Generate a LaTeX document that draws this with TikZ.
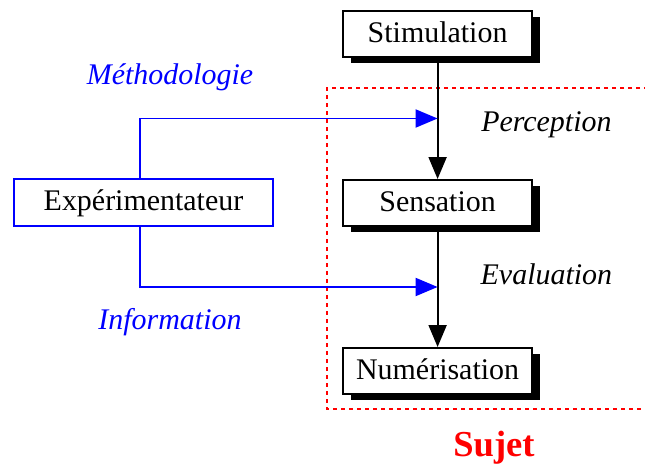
\documentclass[tikz,border=0pt]{standalone}
\usepackage{fontspec}
\setmainfont{Liberation Serif}
\usetikzlibrary{arrows.meta,positioning,calc,shadows}

\begin{document}
\begin{tikzpicture}[
  box/.style={draw=black,line width=1.4pt,fill=white,minimum width=4.725cm,minimum height=1.15cm,inner sep=0pt,font=\fontsize{21.3}{25}\selectfont,
    text height=0.5cm,text depth=0.08cm,
    drop shadow={shadow xshift=0.2cm,shadow yshift=-0.15cm,fill=black,opacity=1}},
  bluebox/.style={draw=blue,line width=1.4pt,fill=white,minimum width=6.475cm,minimum height=1.175cm,inner sep=0pt,font=\fontsize{21.3}{25}\selectfont,
    text height=0.5cm,text depth=0.08cm},
  lbl/.style={anchor=base,font=\fontsize{21.3}{25}\selectfont\itshape},
  arr/.style={-{Triangle[length=0.55cm,width=0.45cm]},line width=1.4pt,black},
  barr/.style={-{Triangle[length=0.55cm,width=0.45cm]},line width=1.4pt,blue}
]
\useasboundingbox (0,0) rectangle (16.125,11.6);

% Sujet frame
\draw[red,line width=1.4pt,dash pattern=on 0.1cm off 0.1cm] (16.4,9.4) -| (8.175,1.375) -- (16.4,1.375);

% Chain
\node[box] (stim) at (10.94,10.75) {Stimulation};
\node[box] (sens) at (10.94,6.525) {Sensation};
\node[box] (num) at (10.94,2.325) {Numérisation};
\node[bluebox] (expe) at (3.5875,6.5375) {Expérimentateur};

\coordinate (pin) at ($(stim.south)!0.5!(sens.north)$);
\coordinate (ein) at ($(sens.south)!0.5!(num.north)$);

\draw[arr] (stim.south) -- (sens.north);
\draw[arr] (sens.south) -- (num.north);
\draw[barr] ([xshift=-0.09cm]expe.north) |- (pin);
\draw[barr] ([xshift=-0.09cm]expe.south) |- (ein);

% Labels
\node[lbl,text=blue] (meth) at (4.25,9.475) {Méthodologie};
\node[lbl,text=blue] (info) at (4.25,3.35) {Information};
\node[lbl] (perc) at (13.66,8.3) {Perception};
\node[lbl] (eval) at (13.66,4.475) {Evaluation};
\node[anchor=base,text=red,font=\fontsize{26}{31}\selectfont\bfseries] (sujet) at (12.35,0.175) {Sujet};
\end{tikzpicture}
\end{document}
